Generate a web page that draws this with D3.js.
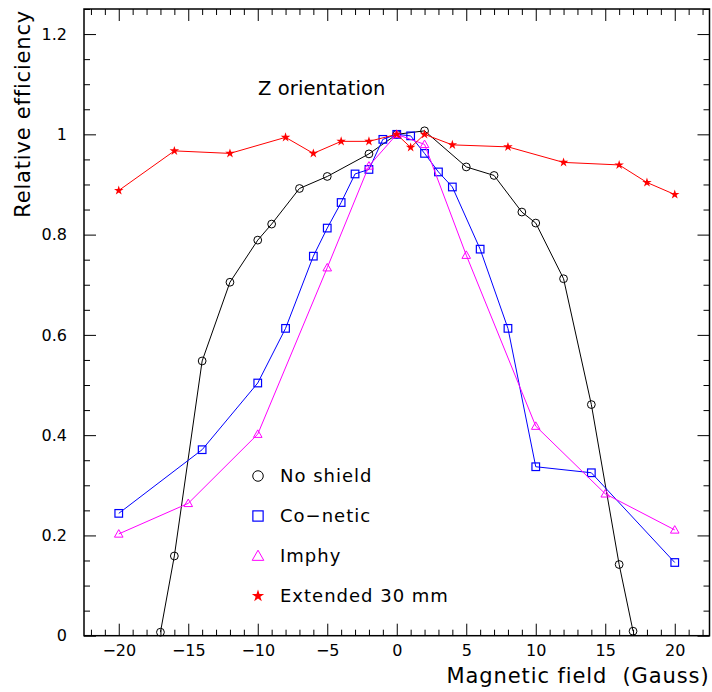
<!DOCTYPE html>
<html>
<head>
<meta charset="utf-8">
<script src="https://cdn.jsdelivr.net/npm/d3@7"></script>
<style>
  body { margin: 0; background: #fff; }
  svg { display: block; }
  text { font-family: "DejaVu Sans", sans-serif; fill: #000; }
</style>
</head>
<body>
<svg id="chart" width="712" height="692"></svg>
<script>
// ---- data ----
const noShieldX = [-17, -16, -14, -12, -10, -9, -7, -5, -2, 0, 2, 5, 7, 9, 10, 12, 14, 16, 17];
const noShieldY = [0.007, 0.159, 0.548, 0.705, 0.789, 0.821, 0.892, 0.916, 0.961, 1.0, 1.007, 0.935, 0.918, 0.845, 0.823, 0.712, 0.461, 0.142, 0.009];

const conetX = [-20, -14, -10, -8, -6, -5, -4, -3, -2, -1, 0, 1, 2, 3, 4, 6, 8, 10, 14, 20];
const conetY = [0.244, 0.371, 0.504, 0.613, 0.757, 0.813, 0.864, 0.921, 0.930, 0.990, 1.0, 0.997, 0.962, 0.925, 0.895, 0.771, 0.613, 0.337, 0.325, 0.146];

const imphyX = [-20, -15, -10, -5, -2, 0, 2, 5, 10, 15, 20];
const imphyY = [0.203, 0.264, 0.402, 0.734, 0.937, 1.0, 0.980, 0.759, 0.418, 0.283, 0.211];

const extX = [-20, -16, -12, -8, -6, -4, -2, 0, 1, 2, 4, 8, 12, 16, 18, 20];
const extY = [0.888, 0.967, 0.962, 0.994, 0.962, 0.986, 0.986, 1.0, 0.974, 1.0, 0.979, 0.975, 0.944, 0.939, 0.904, 0.880];

const xMajorTicks = [-20, -15, -10, -5, 0, 5, 10, 15, 20];
const xTickLabels = ["\u221220", "\u221215", "\u221210", "\u22125", "0", "5", "10", "15", "20"];
const yMajorTicks = [0, 0.2, 0.4, 0.6, 0.8, 1.0, 1.2];
const yTickLabels = ["0", "0.2", "0.4", "0.6", "0.8", "1", "1.2"];

const seriesNames = ["No shield", "Co\u2212netic", "Imphy", "Extended 30 mm"];
const seriesColors = ["#000000", "#0000ff", "#ff00ff", "#ff0000"];

const titleText = "Z orientation";
const xTitle = "Magnetic field  (Gauss)";
const yTitle = "Relative efficiency";

// ---- layout ----
const svg = d3.select("#chart");
const L = 84, R = 709.5, T = 9, B = 635.7;
const x = d3.scaleLinear().domain([-22.5, 22.5]).range([L, R]);
const y = d3.scaleLinear().domain([0, 1.25]).range([B, T]);

const xMinor = d3.range(-22, 23, 1).filter(v => v % 5 !== 0);
const yMinor = d3.range(0, 26).map(i => +(i * 0.05).toFixed(2)).filter(v => Math.round(v * 100) % 20 !== 0);

function styleAxis(g) {
  g.select(".domain").remove();
  g.selectAll(".tick line").attr("stroke", "#000").attr("stroke-width", 1);
  g.selectAll("text").style("font-family", "DejaVu Sans, sans-serif").style("font-size", "16px").attr("fill", "#000");
}

// bottom
svg.append("g").attr("transform", `translate(0,${B})`)
  .call(d3.axisBottom(x).tickValues(xMinor).tickSize(-6).tickFormat(""))
  .call(styleAxis);
svg.append("g").attr("transform", `translate(0,${B})`)
  .call(d3.axisBottom(x).tickValues(xMajorTicks).tickSize(-12).tickPadding(9)
        .tickFormat((d, i) => xTickLabels[i]))
  .call(styleAxis);
// top
svg.append("g").attr("transform", `translate(0,${T})`)
  .call(d3.axisTop(x).tickValues(xMinor).tickSize(-6).tickFormat(""))
  .call(styleAxis);
svg.append("g").attr("transform", `translate(0,${T})`)
  .call(d3.axisTop(x).tickValues(xMajorTicks).tickSize(-12).tickFormat(""))
  .call(styleAxis);
// left
svg.append("g").attr("transform", `translate(${L},0)`)
  .call(d3.axisLeft(y).tickValues(yMinor).tickSize(-6).tickFormat(""))
  .call(styleAxis);
svg.append("g").attr("transform", `translate(${L},0)`)
  .call(d3.axisLeft(y).tickValues(yMajorTicks).tickSize(-12).tickPadding(17)
        .tickFormat((d, i) => yTickLabels[i]))
  .call(styleAxis);
// right
svg.append("g").attr("transform", `translate(${R},0)`)
  .call(d3.axisRight(y).tickValues(yMinor).tickSize(-6).tickFormat(""))
  .call(styleAxis);
svg.append("g").attr("transform", `translate(${R},0)`)
  .call(d3.axisRight(y).tickValues(yMajorTicks).tickSize(-12).tickFormat(""))
  .call(styleAxis);

// frame
svg.append("rect").attr("x", L).attr("y", T).attr("width", R - L).attr("height", B - T)
  .attr("fill", "none").attr("stroke", "#000").attr("stroke-width", 1.5);

// ---- series ----
const line = d3.line().x(d => x(d[0])).y(d => y(d[1]));
const series = [
  { xs: noShieldX, ys: noShieldY, sym: "circle" },
  { xs: conetX, ys: conetY, sym: "square" },
  { xs: imphyX, ys: imphyY, sym: "triangle" },
  { xs: extX, ys: extY, sym: "star" }
];

function drawMarker(g, type, cx, cy, color, scale) {
  const s = scale || 1;
  if (type === "circle") {
    g.append("circle").attr("cx", cx).attr("cy", cy).attr("r", 3.9 * s)
      .attr("fill", "none").attr("stroke", color).attr("stroke-width", 1);
  } else if (type === "square") {
    const h = 3.8 * s;
    g.append("rect").attr("x", cx - h).attr("y", cy - h).attr("width", 2 * h).attr("height", 2 * h)
      .attr("fill", "none").attr("stroke", color).attr("stroke-width", 1.2);
  } else if (type === "triangle") {
    const h = 4.3 * s;
    const pts = [[cx, cy - h], [cx - h, cy + h * 0.75], [cx + h, cy + h * 0.75]];
    g.append("polygon").attr("points", pts.map(p => p.join(",")).join(" "))
      .attr("fill", "none").attr("stroke", color).attr("stroke-width", 1);
  } else if (type === "star") {
    g.append("path").attr("d", d3.symbol().type(d3.symbolStar).size(28 * s * s)())
      .attr("transform", `translate(${cx},${cy})`).attr("fill", color);
  }
}

series.forEach((s, i) => {
  const pts = s.xs.map((xv, j) => [xv, s.ys[j]]);
  const g = svg.append("g");
  g.append("path").datum(pts).attr("d", line)
    .attr("fill", "none").attr("stroke", seriesColors[i]).attr("stroke-width", 1);
  pts.forEach(p => drawMarker(g, s.sym, x(p[0]), y(p[1]), seriesColors[i], 1));
});

// ---- legend ----
const legendY = [476, 516, 556, 596];
series.forEach((s, i) => {
  const g = svg.append("g");
  drawMarker(g, s.sym, 258, legendY[i], seriesColors[i], s.sym === "star" ? 1.3 : 1.35);
  g.append("text").attr("x", 280).attr("y", legendY[i]).attr("dy", "0.36em")
    .style("font-size", "18px").style("letter-spacing", "1px").text(seriesNames[i]);
});

// ---- titles ----
svg.append("text").attr("x", 258).attr("y", 95)
  .style("font-size", "19.5px").style("letter-spacing", "0.1px").text(titleText);

svg.append("text").attr("x", R).attr("y", 683).attr("text-anchor", "end")
  .style("font-size", "21px").style("letter-spacing", "0.9px").style("white-space", "pre").text(xTitle);

svg.append("text").attr("transform", `translate(30,${T + 1}) rotate(-90)`).attr("text-anchor", "end")
  .style("font-size", "21px").style("letter-spacing", "0.8px").text(yTitle);
</script>
</body>
</html>
